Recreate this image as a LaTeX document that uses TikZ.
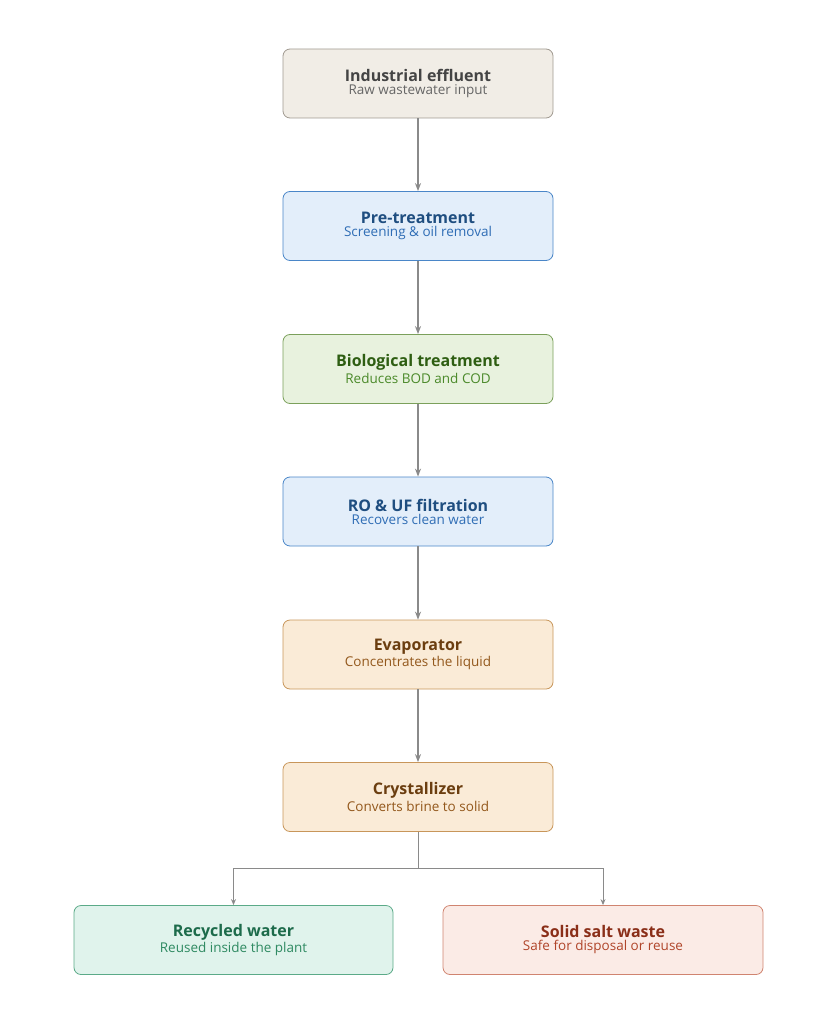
\documentclass[tikz,border=0pt]{standalone}
\usepackage{fontspec}
\setmainfont{Open Sans}
\usetikzlibrary{positioning,arrows.meta}

\definecolor{grayfill}{HTML}{F1EDE6}\definecolor{graydraw}{HTML}{A09A90}
\definecolor{graytitle}{HTML}{444444}\definecolor{graysub}{HTML}{666666}
\definecolor{bluefill}{HTML}{E3EEFA}\definecolor{bluedraw}{HTML}{4A86C8}
\definecolor{bluetitle}{HTML}{1F4E80}\definecolor{bluesub}{HTML}{2F6DB5}
\definecolor{greenfill}{HTML}{E8F2DE}\definecolor{greendraw}{HTML}{7BA05B}
\definecolor{greentitle}{HTML}{2E5E12}\definecolor{greensub}{HTML}{4B8A2A}
\definecolor{orangefill}{HTML}{FAEBD7}\definecolor{orangedraw}{HTML}{C8965A}
\definecolor{orangetitle}{HTML}{6B3E10}\definecolor{orangesub}{HTML}{93581C}
\definecolor{tealfill}{HTML}{E0F3EC}\definecolor{tealdraw}{HTML}{5BAA88}
\definecolor{tealtitle}{HTML}{1D6B4B}\definecolor{tealsub}{HTML}{2F8A62}
\definecolor{redfill}{HTML}{FBEBE6}\definecolor{reddraw}{HTML}{D08470}
\definecolor{redtitle}{HTML}{8A2E18}\definecolor{redsub}{HTML}{B0452A}
\definecolor{arrowgray}{HTML}{8A8A8A}

\newcommand{\boxtext}[4]{{\fontsize{16}{20}\selectfont\bfseries\color{#1}#2}\\[1pt]{\fontsize{13.5}{17}\selectfont\color{#3}#4}}

\tikzset{
  stage/.style={draw, rounded corners=7pt, minimum width=270pt, minimum height=69pt, align=center, line width=0.8pt},
  wide/.style={stage, minimum width=320pt},
  flow/.style={draw=arrowgray, line width=1.3pt, -{Stealth[length=8pt,width=6pt]}},
  branch/.style={draw=arrowgray, line width=1pt, -{Stealth[length=6pt,width=5pt]}}
}

\begin{document}
\begin{tikzpicture}[x=1pt,y=-1pt]
  \useasboundingbox (0,0) rectangle (837,1024);
  \node[stage, fill=grayfill, draw=graydraw] (effluent) at (418,83.5) {\boxtext{graytitle}{Industrial effluent}{graysub}{Raw wastewater input}};
  \node[stage, fill=bluefill, draw=bluedraw] (pretreat) at (418,226) {\boxtext{bluetitle}{Pre-treatment}{bluesub}{Screening \& oil removal}};
  \node[stage, fill=greenfill, draw=greendraw] (bio) at (418,369) {\boxtext{greentitle}{Biological treatment}{greensub}{Reduces BOD and COD}};
  \node[stage, fill=bluefill, draw=bluedraw] (rouf) at (418,511.5) {\boxtext{bluetitle}{RO \& UF filtration}{bluesub}{Recovers clean water}};
  \node[stage, fill=orangefill, draw=orangedraw] (evap) at (418,654.5) {\boxtext{orangetitle}{Evaporator}{orangesub}{Concentrates the liquid}};
  \node[stage, fill=orangefill, draw=orangedraw] (cryst) at (418,797) {\boxtext{orangetitle}{Crystallizer}{orangesub}{Converts brine to solid}};
  \node[wide, minimum width=319pt, fill=tealfill, draw=tealdraw] (recycled) at (233.5,940) {\boxtext{tealtitle}{Recycled water}{tealsub}{Reused inside the plant}};
  \node[wide, fill=redfill, draw=reddraw] (salt) at (603,940) {\boxtext{redtitle}{Solid salt waste}{redsub}{Safe for disposal or reuse}};

  \draw[flow] (effluent) -- (pretreat);
  \draw[flow] (pretreat) -- (bio);
  \draw[flow] (bio) -- (rouf);
  \draw[flow] (rouf) -- (evap);
  \draw[flow] (evap) -- (cryst);
  % split below the crystallizer
  \coordinate (split) at (418,868);
  \draw[arrowgray, line width=1pt] (cryst.south) -- (split);
  \draw[branch] (split) -| (recycled.north);
  \draw[branch] (split) -| (salt.north);
\end{tikzpicture}
\end{document}
